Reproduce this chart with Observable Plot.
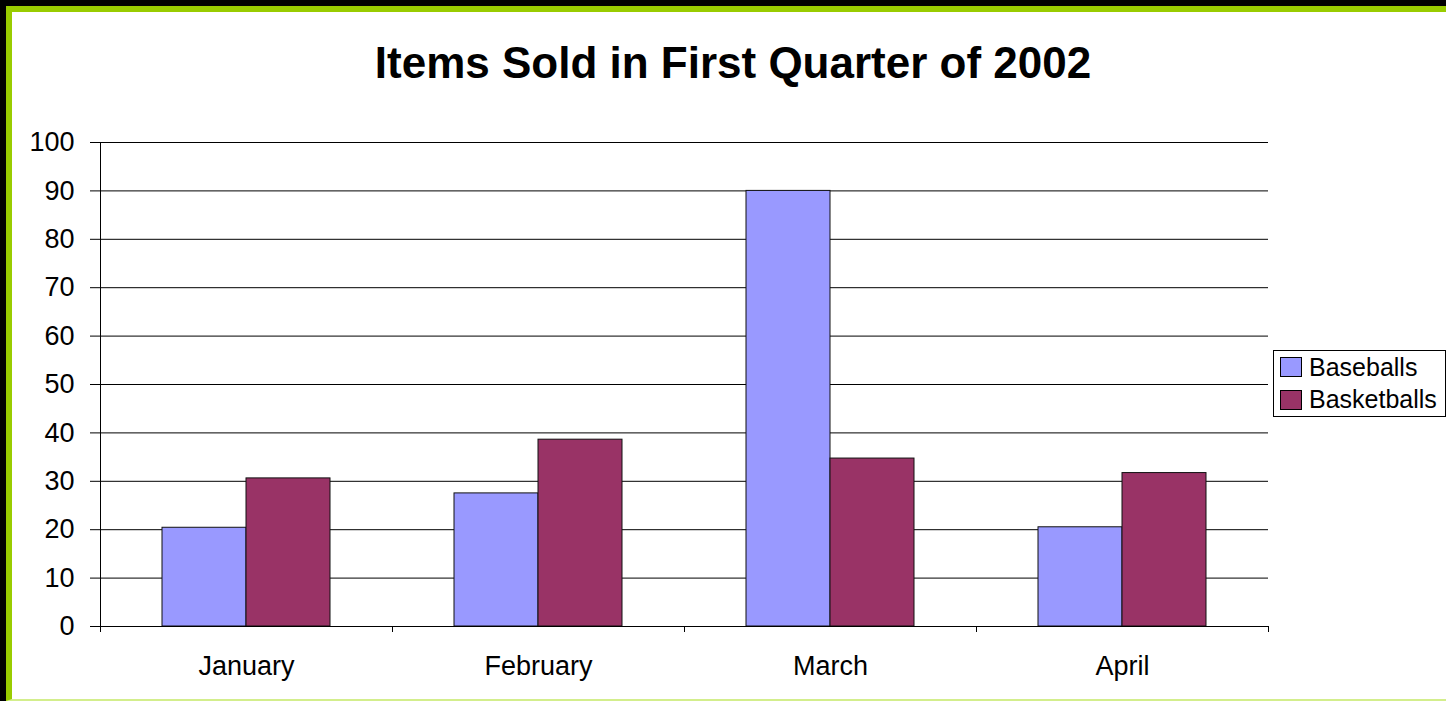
<!DOCTYPE html>
<html>
<head>
<meta charset="utf-8">
<script src="https://cdn.jsdelivr.net/npm/d3@7"></script>
<script src="https://cdn.jsdelivr.net/npm/@observablehq/plot@0.6"></script>
<style>
  html, body { margin: 0; padding: 0; background: #000; width: 1446px; height: 701px; overflow: hidden; font-family: "Liberation Sans", Arial, sans-serif; }
  #frame { position: absolute; left: 6px; top: 6px; width: 1434px; height: 687px; background: #fff;
           border-top: 6px solid #99cc00; border-left: 6px solid #99cc00; border-bottom: 2px solid #d3ee8c; }
  #title { position: absolute; left: 21px; width: 1424px; top: 41px; text-align: center; font-size: 44px; line-height: 44px; font-weight: bold; color: #000; }
  #chart { position: absolute; left: 0; top: 0; }
  #legend { position: absolute; left: 1273px; top: 350px; width: 171px; height: 65px; border: 1px solid #000; background: #fff; }
  .row { height: 32.5px; display: flex; align-items: center; font-size: 25px; color: #000; }
  .sw { width: 20px; height: 18px; border: 1px solid #000; margin-left: 6px; margin-right: 7px; flex: none; }
</style>
</head>
<body>
<div id="frame"></div>
<div id="chart"></div>
<div id="title">Items Sold in First Quarter of 2002</div>
<div id="legend"></div>
<script>
const months = ["January", "February", "March", "April"];
const series = ["Baseballs", "Basketballs"];
const baseballs = [20.4, 27.5, 90.0, 20.5];
const basketballs = [30.6, 38.6, 34.7, 31.7];
const colors = ["#9999ff", "#993366"];
const yTicks = [0, 10, 20, 30, 40, 50, 60, 70, 80, 90, 100];

const data = months.flatMap((m, i) => [
  {month: m, series: series[0], value: baseballs[i]},
  {month: m, series: series[1], value: basketballs[i]}
]);

const chart = Plot.plot({
  width: 1446,
  height: 701,
  marginLeft: 99,
  marginRight: 178,
  marginTop: 142,
  marginBottom: 75,
  style: {background: "transparent", fontFamily: "Liberation Sans, Arial, sans-serif", color: "#000"},
  fx: {domain: months, padding: 0, label: null, axis: null},
  x: {domain: series, paddingInner: 0, paddingOuter: 0.738, axis: null},
  y: {domain: [0, 100], axis: null},
  color: {domain: series, range: colors},
  marks: [
    Plot.ruleY(yTicks.filter(d => d > 0), {stroke: "#000", strokeWidth: 1}),
    Plot.axisY({ticks: yTicks, tickSize: 10, tickPadding: 16, label: null, fontSize: 27, stroke: "#000"}),
    Plot.axisFx({domain: months, anchor: "bottom", tickSize: 0, tickPadding: 29, label: null, fontSize: 27}),
    Plot.barY(data, {fx: "month", x: "series", y: "value", fill: "series", stroke: "#111", strokeWidth: 1}),
    Plot.ruleY([0], {stroke: "#000"})
  ]
});
document.getElementById("chart").appendChild(chart);

// y axis line and category boundary ticks, from the chart's own scales
const svg = d3.select(chart);
const fx = chart.scale("fx");
const ys = chart.scale("y");
const y0 = ys.apply(0), y100 = ys.apply(100);
const left = fx.apply(months[0]);
const step = fx.step ?? fx.bandwidth;
const g = svg.append("g").attr("stroke", "#000").attr("stroke-width", 1);
g.append("line").attr("x1", left + 0.5).attr("x2", left + 0.5).attr("y1", y100).attr("y2", y0);
d3.range(months.length + 1).forEach(i => {
  const x = left + i * step + 0.5;
  g.append("line").attr("x1", x).attr("x2", x).attr("y1", y0).attr("y2", y0 + 6);
});

// legend
const legend = d3.select("#legend");
series.forEach((s, i) => {
  const row = legend.append("div").attr("class", "row");
  row.append("div").attr("class", "sw").style("background", colors[i]);
  row.append("span").text(s);
});
</script>
</body>
</html>
